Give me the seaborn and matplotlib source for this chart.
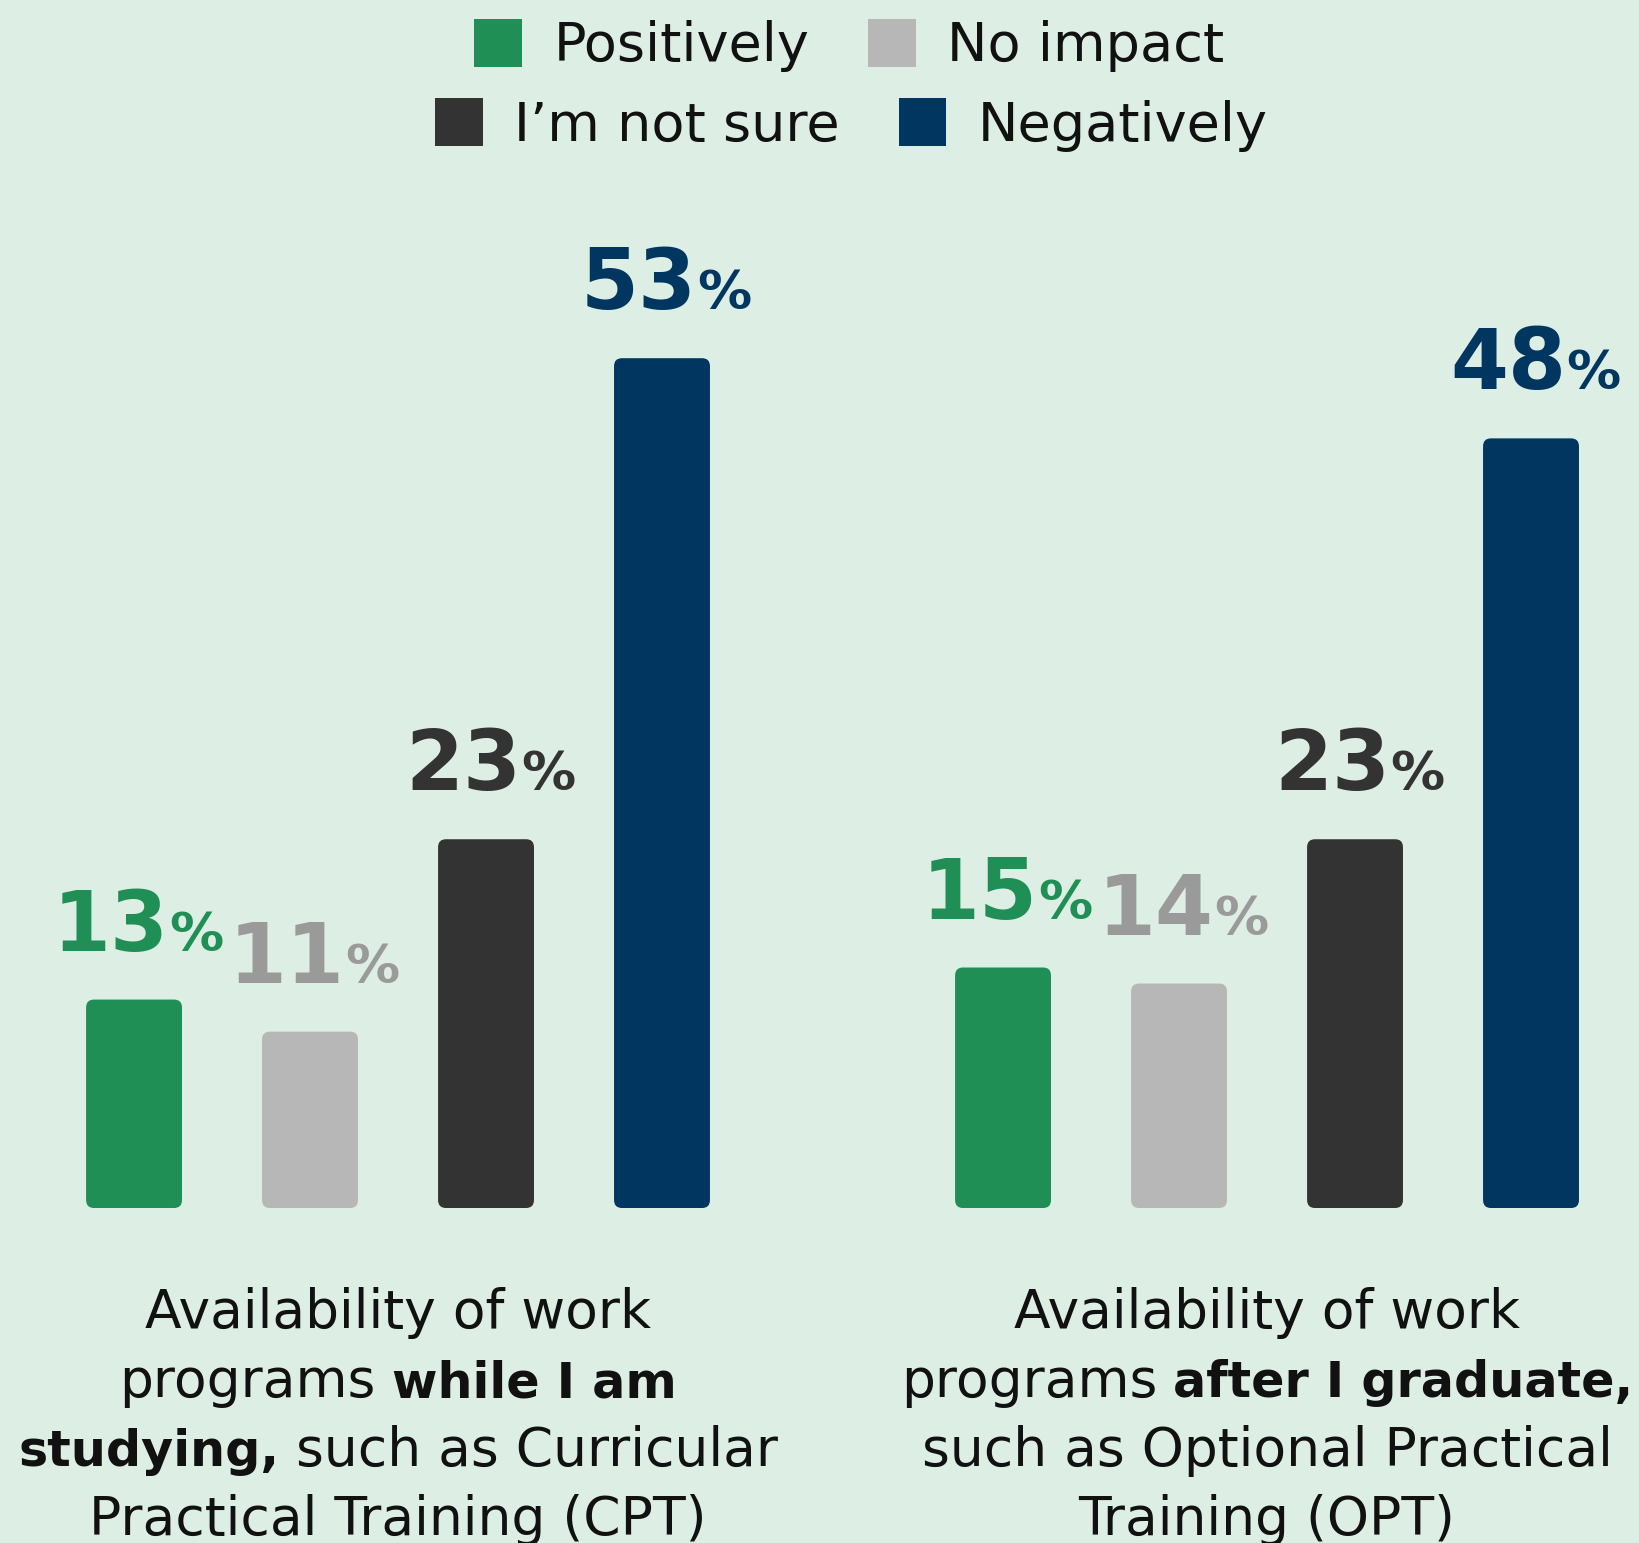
import pandas as pd
import matplotlib.pyplot as plt
import seaborn as sns
from matplotlib.patches import Patch, FancyBboxPatch
from matplotlib.offsetbox import TextArea, HPacker, VPacker, AnnotationBbox

# Survey data
responses = ["Positively", "No impact", "I\u2019m not sure", "Negatively"]
cpt_values = [13, 11, 23, 53]
opt_values = [15, 14, 23, 48]
bar_colors = ["#1F8F55", "#B7B7B7", "#333333", "#003660"]
label_colors = ["#1F8F55", "#9A9A9A", "#333333", "#003660"]

cpt_caption = [
    [("Availability of work", "normal")],
    [("programs", "normal"), ("while I am", "bold")],
    [("studying,", "bold"), ("such as Curricular", "normal")],
    [("Practical Training (CPT)", "normal")],
]
opt_caption = [
    [("Availability of work", "normal")],
    [("programs", "normal"), ("after I graduate,", "bold")],
    [("such as Optional Practical", "normal")],
    [("Training (OPT)", "normal")],
]

bg = "#DDEEE5"
text_color = "#111111"

sns.set_style("white")
plt.rcParams['font.family'] = ['DejaVu Sans']

fig = plt.figure(figsize=(16.39, 15.43), dpi=100, facecolor=bg)

panels = [
    (cpt_values, cpt_caption, [0.0281, 0.2171, 0.4295, 0.6235]),
    (opt_values, opt_caption, [0.5583, 0.2171, 0.4295, 0.6235]),
]

for values, caption, rect in panels:
    ax = fig.add_axes(rect)
    ax.set_facecolor(bg)
    df = pd.DataFrame({"response": responses, "value": values})
    sns.barplot(data=df, x="response", y="value", hue="response",
                palette=bar_colors, saturation=1, width=0.545, ax=ax,
                legend=False)
    ax.set_xlim(-0.5, 3.5)
    ax.set_ylim(0, 60)
    ax.axis("off")

    # rounded bar corners
    for patch in list(ax.patches):
        x, y = patch.get_x(), patch.get_y()
        w, h = patch.get_width(), patch.get_height()
        fb = FancyBboxPatch((x, y), w, h,
                            boxstyle="round,pad=0,rounding_size=0.045",
                            mutation_aspect=10.98,
                            fc=patch.get_facecolor(), ec="none")
        patch.remove()
        ax.add_patch(fb)

    # value labels
    for i, v in enumerate(values):
        num = TextArea(str(v), textprops=dict(fontsize=60, fontweight="heavy",
                                              color=label_colors[i]))
        pct = TextArea("%", textprops=dict(fontsize=39, fontweight="bold",
                                           color=label_colors[i]))
        box = HPacker(children=[num, pct], align="baseline", pad=0, sep=0)
        ab = AnnotationBbox(box, (i, v), xybox=(3, 23), xycoords="data",
                            boxcoords="offset points", box_alignment=(0.5, 0),
                            frameon=False, pad=0)
        ax.add_artist(ab)

    # caption under the panel
    lines = []
    for line in caption:
        parts = []
        for t, wt in line:
            size = 35.5 if wt == "bold" else 38.5
            parts.append(TextArea(t, textprops=dict(fontsize=size, fontweight=wt,
                                                    color=text_color)))
        lines.append(HPacker(children=parts, align="baseline", pad=0, sep=11.5))
    vbox = VPacker(children=lines, align="center", pad=0, sep=12.2)
    cx = rect[0] + rect[2] / 2
    cap = AnnotationBbox(vbox, (cx, 0.1656), xycoords="figure fraction",
                         box_alignment=(0.5, 1), frameon=False, pad=0)
    fig.add_artist(cap)

# Legend, two centred rows
handles = [Patch(facecolor=c, edgecolor="none", label=r)
           for c, r in zip(bar_colors, responses)]
legend_kw = dict(loc="center", ncol=2, frameon=False, fontsize=39,
                 labelcolor=text_color,
                 handlelength=0.885, handleheight=0.984, handletextpad=0.58,
                 columnspacing=1.08, borderpad=0, borderaxespad=0)
fig.legend(handles=handles[:2], bbox_to_anchor=(0.5183, 1 - 45.5 / 1543), **legend_kw)
fig.legend(handles=handles[2:], bbox_to_anchor=(0.5195, 1 - 125 / 1543), **legend_kw)

plt.savefig("out.png", dpi=100, facecolor=bg)
print("Chart saved")
